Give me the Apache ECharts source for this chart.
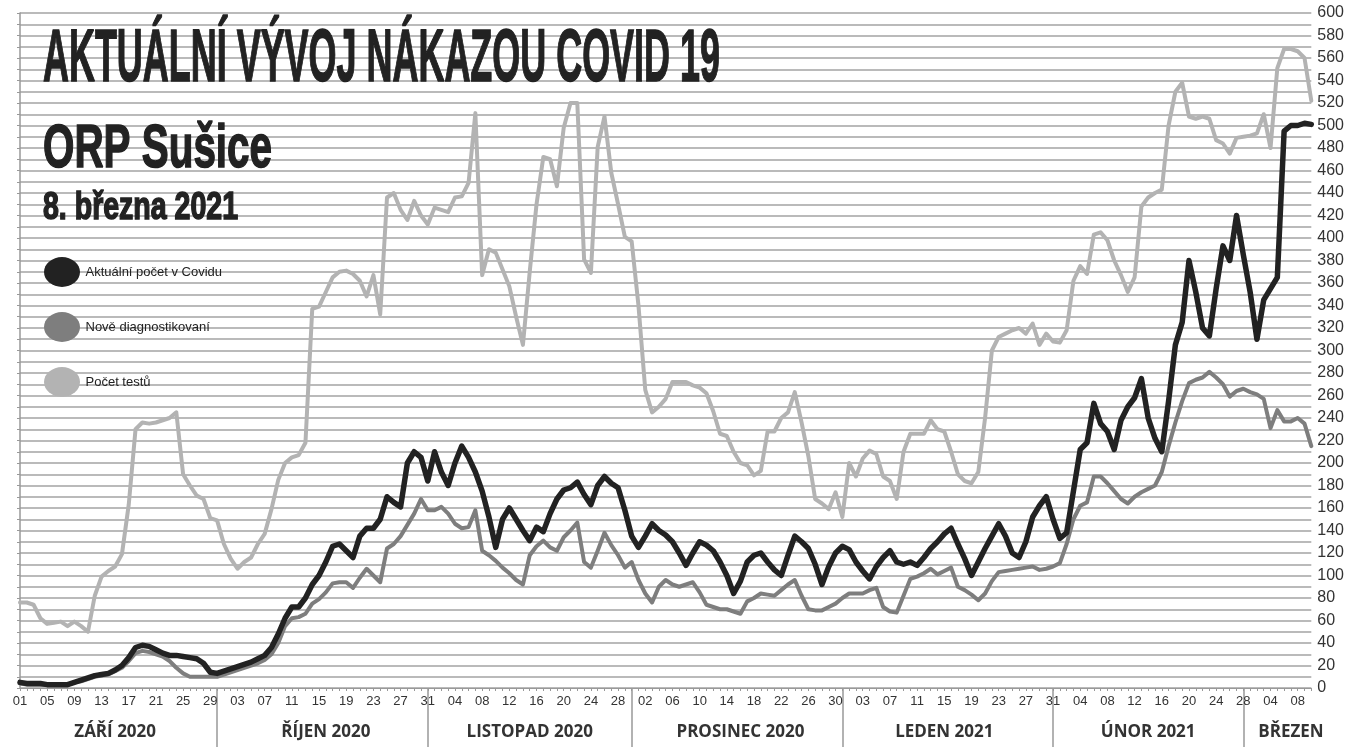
<!DOCTYPE html>
<html>
<head>
<meta charset="utf-8">
<title>Aktuální vývoj nákazou COVID 19 - ORP Sušice</title>
<script src="https://cdn.jsdelivr.net/npm/echarts@6/dist/echarts.min.js"></script>
<style>
html, body { margin: 0; padding: 0; background: #fff; }
#chart { width: 1347px; height: 747px; }
</style>
</head>
<body>
<div id="chart"></div>
<script>
// denní hodnoty od 1. 9. 2020
var aktualni = [
    5, 4, 4, 4, 3, 3, 3, 3, 5, 7,
    9, 11, 12, 13, 16, 20, 27, 36, 38, 37,
    34, 31, 29, 29, 28, 27, 26, 22, 14, 13,
    15, 17, 19, 21, 23, 26, 29, 36, 48, 62,
    72, 72, 80, 92, 100, 112, 126, 128, 122, 116,
    135, 142, 142, 150, 170, 165, 161, 200, 210, 205,
    184, 210, 192, 180, 200, 215, 205, 192, 175, 152,
    125, 150, 160, 150, 140, 131, 143, 139, 155, 168,
    176, 178, 183, 172, 163, 180, 188, 182, 178, 158,
    135, 125, 135, 146, 140, 136, 130, 120, 109, 120,
    130, 127, 122, 112, 100, 84, 95, 112, 118, 120,
    112, 105, 100, 118, 135, 130, 124, 110, 92, 108,
    120, 126, 123, 112, 104, 97, 108, 116, 122, 112,
    110, 112, 109, 116, 124, 130, 137, 142, 128, 115,
    100, 112, 124, 135, 146, 135, 120, 116, 130, 152,
    162, 170, 150, 133, 138, 175, 212, 218, 253, 235,
    228, 212, 238, 250, 258, 275, 240, 222, 210, 255,
    305, 325, 380, 352, 320, 313, 355, 393, 380, 420,
    385, 352, 310, 345, 355, 365, 495, 500, 500, 502, 501
];
var nove = [
    4, 3, 3, 3, 3, 3, 3, 3, 5, 6,
    8, 10, 11, 12, 15, 18, 24, 31, 33, 32,
    30, 28, 24, 18, 13, 10, 10, 10, 10, 10,
    12, 14, 16, 18, 20, 22, 25, 30, 40, 55,
    62, 63, 66, 75, 79, 85, 93, 94, 94, 89,
    98, 106, 100, 94, 124, 128, 135, 145, 155, 168,
    158, 158, 161, 155, 146, 142, 143, 158, 122, 118,
    113, 107, 102, 96, 92, 118, 126, 131, 125, 122,
    134, 140, 147, 112, 107, 122, 138, 127, 118, 107,
    112, 96, 84, 76, 90, 96, 92, 90, 92, 94,
    85, 74, 72, 70, 70, 68, 66, 77, 80, 84,
    83, 82, 87, 92, 96, 82, 70, 69, 69, 72,
    75, 80, 84, 84, 84, 87, 89, 72, 68, 67,
    82, 97, 99, 102, 106, 101, 104, 107, 90, 87,
    83, 78, 84, 95, 103, 104, 105, 106, 107, 108,
    105, 106, 108, 111, 128, 150, 162, 165, 188, 188,
    182, 175, 168, 164, 170, 174, 177, 180, 192, 215,
    236, 255, 271, 274, 276, 281, 276, 270, 259, 264,
    266, 263, 261, 257, 231, 247, 237, 237, 240, 235, 215
];
var testy = [
    76, 76, 74, 62, 57, 58, 59, 55, 59, 55,
    50, 82, 99, 104, 108, 119, 163, 230, 236, 235,
    236, 238, 240, 245, 190, 180, 171, 168, 151, 149,
    128, 115, 106, 112, 116, 128, 137, 159, 185, 200,
    205, 207, 218, 337, 339, 352, 365, 370, 371, 368,
    362, 348, 367, 332, 436, 440, 425, 416, 433, 420,
    412, 427, 425, 423, 436, 437, 449, 511, 367, 390,
    387, 372, 357, 330, 305, 370, 430, 472, 470, 446,
    498, 520, 520, 381, 369, 481, 508, 458, 430, 401,
    397, 340, 265, 245, 250, 257, 272, 272, 272, 269,
    267, 262, 246, 226, 224, 210, 200, 198, 189, 193,
    228, 228, 240, 245, 263, 236, 206, 168, 164, 159,
    174, 152, 200, 188, 204, 211, 208, 188, 184, 168,
    210, 226, 226, 226, 238, 230, 228, 210, 190, 184,
    182, 192, 240, 300, 312, 315, 318, 320, 315, 324,
    305, 315, 308, 307, 318, 362, 375, 368, 403, 405,
    398, 380, 367, 352, 365, 428, 436, 440, 443, 500,
    530, 538, 508, 506, 508, 506, 487, 484, 475, 489,
    490, 491, 493, 510, 480, 551, 568, 568, 566, 560, 522
];

var seriesNames = ['Aktuální počet v Covidu', 'Nově diagnostikovaní', 'Počet testů'];
var monthNames = ['ZÁŘÍ 2020', 'ŘÍJEN 2020', 'LISTOPAD 2020', 'PROSINEC 2020', 'LEDEN 2021', 'ÚNOR 2021', 'BŘEZEN'];
var monthLabelDay = [15, 16, 15, 16, 15, 14, 7]; // den v měsíci, kde stojí název

var narrow = '"Liberation Sans Narrow", "Liberation Sans", sans-serif';

function pad(n){ return n < 10 ? '0' + n : '' + n; }

// osa x - dny
var days = [];
var monthLabelAt = {};
var monthEndAt = {};
for (var i = 0; i < aktualni.length; i++) {
    var d = new Date(2020, 8, 1 + i);
    var next = new Date(2020, 8, 2 + i);
    var m = (d.getFullYear() - 2020) * 12 + d.getMonth() - 8;
    days.push(d.getFullYear() + '-' + pad(d.getMonth() + 1) + '-' + pad(d.getDate()));
    if (d.getDate() == monthLabelDay[m]) monthLabelAt[i] = monthNames[m];
    if (next.getDate() == 1 && i < aktualni.length - 1) monthEndAt[i] = true;
}

// zúžení nadpisu na šířku z předlohy
var ctx = document.createElement('canvas').getContext('2d');
function fitScale(text, font, width){
    ctx.font = font;
    return width / ctx.measureText(text).width;
}
function titleText(text, size, x, yMid, width){
    var font = 'bold ' + size + 'px ' + narrow;
    return {
        type: 'text',
        x: x,
        y: yMid,
        scaleX: fitScale(text, font, width),
        z: 10,
        style: {
            text: text,
            font: font,
            fill: '#222',
            stroke: '#222',
            lineWidth: 1.5,
            align: 'left',
            verticalAlign: 'middle'
        }
    };
}

var myChart = echarts.init(document.getElementById('chart'));
myChart.setOption({
    animation: false,
    backgroundColor: '#fff',
    grid: { left: 20, right: 34, top: 13, bottom: 59 },
    graphic: [
        titleText('AKTUÁLNÍ VÝVOJ NÁKAZOU COVID 19', 75, 43, 60, 677),
        titleText('ORP Sušice', 61, 43, 150, 229),
        titleText('8. března 2021', 38, 43, 209, 195)
    ],
    legend: {
        orient: 'vertical',
        left: 39,
        top: 252,
        itemWidth: 37,
        itemHeight: 30,
        itemGap: 25,
        icon: 'path://M0,15A18,15,0,1,1,36,15A18,15,0,1,1,0,15Z',
        data: seriesNames,
        textStyle: { fontFamily: narrow, fontSize: 13, color: '#222' }
    },
    xAxis: [
        {
            type: 'category',
            data: days,
            boundaryGap: false,
            axisLine: { lineStyle: { color: '#999', width: 1 } },
            axisTick: { interval: 0, length: 3, lineStyle: { color: '#999' } },
            axisLabel: {
                interval: 3,
                margin: 7,
                fontFamily: narrow,
                fontSize: 13,
                color: '#333',
                formatter: function (value) { return value.slice(8); }
            },
            splitLine: { show: false }
        },
        {
            type: 'category',
            data: days,
            position: 'bottom',
            boundaryGap: false,
            axisLine: { show: false },
            axisTick: {
                show: true,
                length: 59,
                interval: function (index) { return !!monthEndAt[index]; },
                lineStyle: { color: '#999', width: 1.5 }
            },
            axisLabel: {
                interval: function (index) { return !!monthLabelAt[index]; },
                margin: 36,
                fontFamily: '"Open Sans", sans-serif',
                fontWeight: 'bold',
                fontSize: 17,
                color: '#333',
                formatter: function (value, index) { return monthLabelAt[index] || ''; }
            },
            splitLine: { show: false }
        }
    ],
    yAxis: [
        {
            type: 'value',
            position: 'right',
            min: 0,
            max: 600,
            interval: 10,
            axisLine: { show: false },
            axisTick: { show: false },
            axisLabel: {
                margin: 6,
                fontFamily: narrow,
                fontSize: 16,
                color: '#333',
                formatter: function (v) { return v % 20 === 0 ? v : ''; }
            },
            splitLine: { lineStyle: { color: '#bababa', width: 2 } }
        },
        {
            type: 'value',
            position: 'left',
            min: 0,
            max: 600,
            interval: 10,
            axisLine: { show: true, lineStyle: { color: '#999', width: 1.5 } },
            axisTick: { show: true, length: 3, lineStyle: { color: '#999' } },
            axisLabel: { show: false },
            splitLine: { show: false }
        }
    ],
    series: [
        {
            name: seriesNames[2],
            type: 'line',
            data: testy,
            symbol: 'none',
            z: 2,
            itemStyle: { color: '#b3b3b3' },
            lineStyle: { color: '#b3b3b3', width: 4, join: 'round', cap: 'round' }
        },
        {
            name: seriesNames[1],
            type: 'line',
            data: nove,
            symbol: 'none',
            z: 3,
            itemStyle: { color: '#7e7e7e' },
            lineStyle: { color: '#7e7e7e', width: 4, join: 'round', cap: 'round' }
        },
        {
            name: seriesNames[0],
            type: 'line',
            data: aktualni,
            symbol: 'none',
            z: 4,
            itemStyle: { color: '#222' },
            lineStyle: { color: '#222', width: 5.5, join: 'round', cap: 'round' }
        }
    ]
});
</script>
</body>
</html>
